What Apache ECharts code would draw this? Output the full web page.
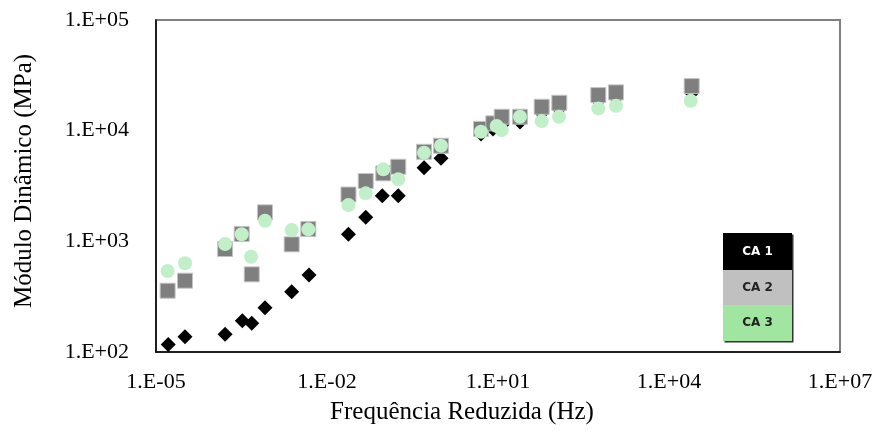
<!DOCTYPE html>
<html>
<head>
<meta charset="utf-8">
<script src="https://cdn.jsdelivr.net/npm/echarts@6/dist/echarts.min.js"></script>
<style>
  html, body { margin: 0; padding: 0; background: #fff; }
  #chart { width: 879px; height: 438px; }
</style>
</head>
<body>
<div id="chart"></div>
<script>
// Reduced frequency (Hz) and dynamic modulus (MPa) for each mixture
const freqCA1 = [1.64e-5, 3.23e-5, 1.63e-4, 3.27e-4, 4.78e-4, 8.17e-4, 2.40e-3, 4.83e-3, 0.0238, 0.0478, 0.0933, 0.178, 0.504, 1.0, 5.03, 8.17, 11.75, 24.3, 58.4, 117.5, 575, 1175, 25000];
const modCA1  = [117, 137, 145, 192, 182, 251, 351, 496, 1159, 1648, 2582, 2582, 4623, 5623, 9315, 10330, 11300, 12000, 14420, 15670, 18500, 19700, 21880];

const freqCA2 = [1.60e-5, 3.23e-5, 1.63e-4, 3.19e-4, 4.78e-4, 8.17e-4, 2.40e-3, 4.70e-3, 0.0238, 0.0478, 0.0973, 0.178, 0.504, 1.0, 5.03, 8.27, 11.6, 24.3, 58.4, 119, 575, 1175, 25000];
const modCA2  = [358, 441, 852, 1164, 503, 1828, 939, 1291, 2648, 3505, 4115, 4720, 6447, 7306, 10380, 11640, 13360, 13360, 16440, 17860, 20980, 22180, 25290];

const freqCA3 = [1.60e-5, 3.23e-5, 1.63e-4, 3.19e-4, 4.65e-4, 8.17e-4, 2.40e-3, 4.70e-3, 0.0238, 0.0478, 0.0973, 0.178, 0.504, 1.0, 5.03, 9.48, 11.6, 24.3, 58.4, 117.5, 575, 1175, 24040];
const modCA3  = [539, 633, 945, 1157, 726, 1535, 1265, 1283, 2128, 2714, 4470, 3631, 6313, 7306, 9774, 11010, 10120, 13360, 12210, 13360, 15890, 16790, 18620];

const seriesNames = ['CA 1', 'CA 2', 'CA 3'];

// Labelled decades on each axis
const xTickValues = [1e-5, 1e-2, 1e1, 1e4, 1e7];
const xTickLabels = ['1.E-05', '1.E-02', '1.E+01', '1.E+04', '1.E+07'];
const yTickValues = [1e2, 1e3, 1e4, 1e5];
const yTickLabels = ['1.E+02', '1.E+03', '1.E+04', '1.E+05'];

function pairs(xs, ys) { return xs.map((x, i) => [x, ys[i]]); }
function labelFor(values, labels) {
  return function (v) {
    for (let i = 0; i < values.length; i++) {
      if (Math.abs(Math.log10(v) - Math.log10(values[i])) < 1e-6) return labels[i];
    }
    return '';
  };
}

const serif = '"Liberation Serif", "Times New Roman", serif';
const chart = echarts.init(document.getElementById('chart'), null, { renderer: 'canvas' });

chart.setOption({
  animation: false,
  backgroundColor: '#ffffff',
  grid: {
    left: 156, right: 39, top: 20, bottom: 86,
    show: true, borderColor: '#808080', borderWidth: 2, backgroundColor: 'transparent'
  },
  xAxis: {
    type: 'log', logBase: 10, min: 1e-5, max: 1e7, interval: 1,
    name: 'Frequência Reduzida (Hz)', nameLocation: 'middle', nameGap: 48,
    nameTextStyle: { fontFamily: serif, fontSize: 25, color: '#000', padding: [0, 72, 0, 0] },
    axisLine: { show: true, lineStyle: { color: '#000', width: 1.5 } },
    axisTick: { show: false },
    splitLine: { show: false },
    axisLabel: {
      show: true, margin: 19, fontFamily: serif, fontSize: 22, color: '#000',
      formatter: labelFor(xTickValues, xTickLabels), showMinLabel: true, showMaxLabel: true
    }
  },
  yAxis: {
    type: 'log', logBase: 10, min: 1e2, max: 1e5, interval: 1,
    name: 'Módulo Dinâmico (MPa)', nameLocation: 'middle', nameGap: 119,
    nameTextStyle: { fontFamily: serif, fontSize: 25, color: '#000', padding: [0, 0, 0, 10] },
    axisLine: { show: true, lineStyle: { color: '#000', width: 1.5 } },
    axisTick: { show: false },
    splitLine: { show: false },
    axisLabel: {
      show: true, margin: 27, fontFamily: serif, fontSize: 22, color: '#000',
      formatter: labelFor(yTickValues, yTickLabels), showMinLabel: true, showMaxLabel: true
    }
  },
  series: [
    {
      name: seriesNames[0], type: 'scatter', symbol: 'diamond', symbolSize: 15,
      itemStyle: { color: '#000000', opacity: 1 },
      data: pairs(freqCA1, modCA1), z: 2
    },
    {
      name: seriesNames[1], type: 'scatter', symbol: 'rect', symbolSize: 15,
      itemStyle: { color: '#7f7f7f', borderColor: '#c4c4c4', borderWidth: 1, opacity: 1 },
      data: pairs(freqCA2, modCA2), z: 3
    },
    {
      name: seriesNames[2], type: 'scatter', symbol: 'circle', symbolSize: 14,
      itemStyle: { color: '#c1efc8', opacity: 1 },
      data: pairs(freqCA3, modCA3), z: 4
    }
  ],
  graphic: [
    {
      type: 'group', left: 723, top: 233,
      children: [
        { type: 'rect', shape: { x: 0, y: 0, width: 69, height: 108 },
          style: { fill: '#333' }, position: [1.5, 1.5] },
        { type: 'rect', shape: { x: 0, y: 0, width: 69, height: 37 }, style: { fill: '#000000' } },
        { type: 'rect', shape: { x: 0, y: 37, width: 69, height: 35 }, style: { fill: '#c0c0c0' } },
        { type: 'rect', shape: { x: 0, y: 72, width: 69, height: 36 }, style: { fill: '#a0e6a0' } },
        { type: 'text', x: 34.5, y: 18.5,
          style: { text: seriesNames[0], fill: '#ffffff', font: 'bold 12px "DejaVu Sans", sans-serif', align: 'center', verticalAlign: 'middle' } },
        { type: 'text', x: 34.5, y: 54.5,
          style: { text: seriesNames[1], fill: '#222222', font: 'bold 12px "DejaVu Sans", sans-serif', align: 'center', verticalAlign: 'middle' } },
        { type: 'text', x: 34.5, y: 90,
          style: { text: seriesNames[2], fill: '#222222', font: 'bold 12px "DejaVu Sans", sans-serif', align: 'center', verticalAlign: 'middle' } }
      ]
    }
  ]
});
</script>
</body>
</html>
